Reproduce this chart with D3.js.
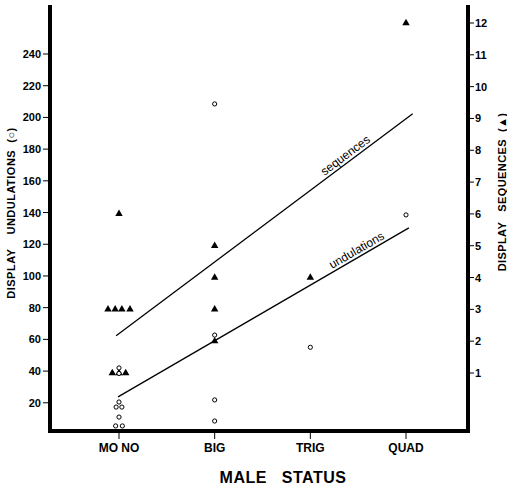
<!DOCTYPE html>
<html>
<head>
<meta charset="utf-8">
<script src="https://cdn.jsdelivr.net/npm/d3@7"></script>
<style>
  body { margin: 0; background: #fff; }
  svg { display: block; font-family: "Liberation Sans", Arial, sans-serif; }
  .tick-label { font-size: 11px; font-weight: bold; }
</style>
</head>
<body>
<svg id="chart"></svg>
<script>
// categories along x (index 0..3)
const categories = ["MO NO", "BIG", "TRIG", "QUAD"];

// undulations (open circles, left axis): [category index + jitter, value]
const undulations = [
  [0, 42], [0, 38.5],
  [0, 20.5], [-0.03, 17.3], [0.03, 17.3],
  [0, 11], [-0.035, 5.4], [0.035, 5.4],
  [1, 208.5], [1, 62.7], [1, 21.8], [1, 8.5],
  [2, 55],
  [3, 138.5]
];

// sequences (filled triangles, right axis)
const sequences = [
  [-0.115, 3], [-0.04, 3], [0.03, 3], [0.115, 3],
  [0, 6],
  [-0.07, 1], [0, 1], [0.07, 1],
  [1, 5], [1, 4], [1, 3], [1, 2],
  [2, 4],
  [3, 12]
];

// fitted lines (endpoints in data units)
const seqFit = [[-0.03, 2.17], [3.07, 9.15]];
const undFit = [[-0.01, 23.7], [3.03, 130.3]];

const leftTicks = d3.range(20, 241, 20);
const rightTicks = d3.range(1, 13);

const W = 507, H = 489;
const svg = d3.select("#chart").attr("width", W).attr("height", H);

// scales
const x = d3.scaleLinear().domain([0, 3]).range([119, 406]);
const yL = d3.scaleLinear().domain([0, 240]).range([434.5, 54]);
const yR = d3.scaleLinear().domain([1, 12]).range([373, 23]);

const axL = 50, axR = 468, axB = 431, axT = 5;

// frame: left, bottom, right (thick)
svg.append("path")
  .attr("d", `M${axL},${axT} V${axB} H${axR} V${axT}`)
  .attr("fill", "none")
  .attr("stroke", "#000")
  .attr("stroke-width", 4);

// left axis ticks
const lt = svg.append("g");
lt.selectAll("line").data(leftTicks).enter().append("line")
  .attr("x1", axL - 7).attr("x2", axL)
  .attr("y1", d => yL(d)).attr("y2", d => yL(d))
  .attr("stroke", "#000").attr("stroke-width", 1);
lt.selectAll("text").data(leftTicks).enter().append("text")
  .attr("class", "tick-label")
  .attr("x", axL - 9).attr("y", d => yL(d) + 4)
  .attr("text-anchor", "end")
  .text(d => d);

// right axis ticks
const rt = svg.append("g");
rt.selectAll("line").data(rightTicks).enter().append("line")
  .attr("x1", axR).attr("x2", axR + 6)
  .attr("y1", d => yR(d)).attr("y2", d => yR(d))
  .attr("stroke", "#000").attr("stroke-width", 1);
rt.selectAll("text").data(rightTicks).enter().append("text")
  .attr("class", "tick-label")
  .attr("x", axR + 7).attr("y", d => yR(d) + 4)
  .text(d => d);

// category ticks
const ct = svg.append("g");
ct.selectAll("line").data(categories).enter().append("line")
  .attr("x1", (d, i) => x(i)).attr("x2", (d, i) => x(i))
  .attr("y1", axB + 2).attr("y2", axB + 8)
  .attr("stroke", "#000").attr("stroke-width", 1);
ct.selectAll("text").data(categories).enter().append("text")
  .attr("x", (d, i) => x(i)).attr("y", 452)
  .attr("text-anchor", "middle")
  .style("font-size", "12px").style("font-weight", "bold")
  .style("white-space", "pre")
  .text(d => d);

// axis titles
svg.append("text")
  .attr("x", 283).attr("y", 483)
  .attr("text-anchor", "middle")
  .style("font-size", "16px").style("font-weight", "bold")
  .style("letter-spacing", "0.5px").style("white-space", "pre")
  .text("MALE   STATUS");

svg.append("text")
  .attr("transform", "translate(15,213) rotate(-90)")
  .attr("text-anchor", "middle")
  .style("font-size", "11px").style("font-weight", "bold")
  .style("letter-spacing", "0.5px").style("white-space", "pre")
  .text("DISPLAY    UNDULATIONS  (\u25CB)");

svg.append("text")
  .attr("transform", "translate(506,192) rotate(-90)")
  .attr("text-anchor", "middle")
  .style("font-size", "11px").style("font-weight", "bold")
  .style("letter-spacing", "0.4px").style("white-space", "pre")
  .text("DISPLAY   SEQUENCES  (\u25B2)");

// fit lines
const lineL = d3.line().x(d => x(d[0])).y(d => yL(d[1]));
const lineR = d3.line().x(d => x(d[0])).y(d => yR(d[1]));
svg.append("path").datum(seqFit).attr("d", lineR)
  .attr("fill", "none").attr("stroke", "#000").attr("stroke-width", 1.3);
svg.append("path").datum(undFit).attr("d", lineL)
  .attr("fill", "none").attr("stroke", "#000").attr("stroke-width", 1.3);

// labels along the lines
function lineLabel(pts, ys, at, label, dy) {
  const x0 = x(pts[0][0]), y0 = ys(pts[0][1]);
  const x1 = x(pts[1][0]), y1 = ys(pts[1][1]);
  const ang = Math.atan2(y1 - y0, x1 - x0) * 180 / Math.PI;
  const t = (x(at) - x0) / (x1 - x0);
  const px = x0 + t * (x1 - x0), py = y0 + t * (y1 - y0);
  svg.append("text")
    .attr("transform", `translate(${px},${py}) rotate(${ang})`)
    .attr("y", dy)
    .attr("text-anchor", "middle")
    .style("font-size", "12px")
    .text(label);
}
lineLabel(seqFit, yR, 2.41, "sequences", -3);
lineLabel(undFit, yL, 2.52, "undulations", -3);

// points
svg.append("g").selectAll("path").data(sequences).enter().append("path")
  .attr("d", d3.symbol(d3.symbolTriangle, 24))
  .attr("transform", d => `translate(${x(d[0])},${yR(d[1])})`)
  .attr("fill", "#000");

svg.append("g").selectAll("circle").data(undulations).enter().append("circle")
  .attr("cx", d => x(d[0])).attr("cy", d => yL(d[1]))
  .attr("r", 2.1)
  .attr("fill", "#fff").attr("stroke", "#000").attr("stroke-width", 1);
</script>
</body>
</html>
